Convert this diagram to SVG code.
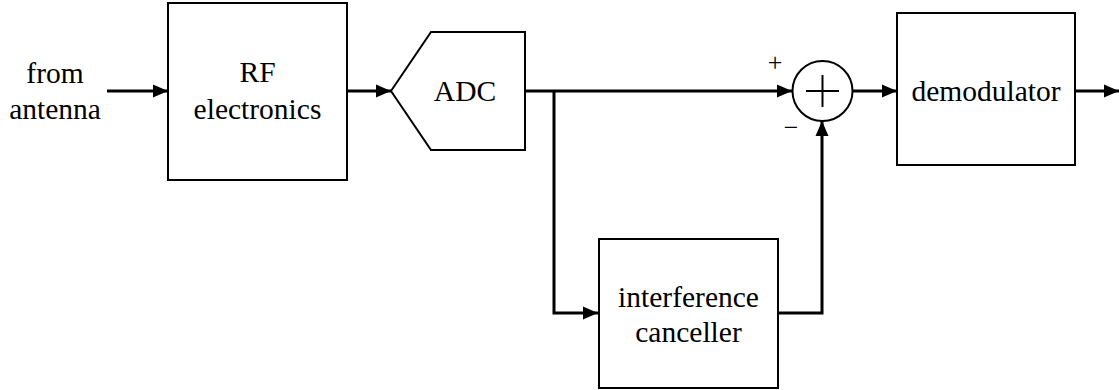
<svg xmlns="http://www.w3.org/2000/svg" width="1119" height="390" viewBox="0 0 1119 390" font-family="'Liberation Serif', 'DejaVu Serif', serif">
<style>
.box{fill:#fff;stroke:#000;stroke-width:2}
.w{stroke:#000;stroke-width:3;fill:none}
text{font-family:'Liberation Serif','DejaVu Serif',serif;font-size:29.5px;fill:#000;text-anchor:middle}
.sm{font-size:26px}
</style>
<defs>
<marker id="ah" markerUnits="userSpaceOnUse" markerWidth="16" markerHeight="14" refX="15" refY="7" orient="auto">
<path d="M0,0.5 L15,7 L0,13.5 Z" fill="#000"/>
</marker>
</defs>
<g id="connectors">
<line class="w" x1="107" y1="91" x2="168" y2="91" marker-end="url(#ah)"/>
<line class="w" x1="347" y1="91" x2="391" y2="91" marker-end="url(#ah)"/>
<line class="w" x1="525" y1="91" x2="792" y2="91" marker-end="url(#ah)"/>
<polyline class="w" points="554,91 554,313 598,313" marker-end="url(#ah)"/>
<polyline class="w" points="778,313 822,313 822,121" marker-end="url(#ah)"/>
<line class="w" x1="853" y1="91" x2="897" y2="91" marker-end="url(#ah)"/>
<line class="w" x1="1075" y1="91" x2="1119" y2="91" marker-end="url(#ah)"/>
</g>
<g id="input-label">
<text x="55" y="83">from</text>
<text x="55" y="119">antenna</text>
</g>
<g id="rf">
<rect class="box" x="168" y="3" width="179" height="177"/>
<text x="257.5" y="82">RF</text>
<text x="257.5" y="119">electronics</text>
</g>
<g id="adc">
<polygon class="box" points="391,91 431,32 525,32 525,150 431,150"/>
<text x="465" y="101">ADC</text>
</g>
<g id="sum">
<circle class="box" cx="822.5" cy="91" r="30"/>
<line stroke="#000" stroke-width="2" x1="806" y1="91" x2="839" y2="91"/>
<line stroke="#000" stroke-width="2" x1="822.5" y1="75" x2="822.5" y2="107"/>
<text class="sm" x="775" y="71">+</text>
<text class="sm" x="791" y="136">−</text>
</g>
<g id="demodulator">
<rect class="box" x="897" y="13" width="178" height="152"/>
<text x="986" y="101">demodulator</text>
</g>
<g id="canceller">
<rect class="box" x="599" y="239" width="179" height="149"/>
<text x="688.5" y="307">interference</text>
<text x="688.5" y="342">canceller</text>
</g>
</svg>
